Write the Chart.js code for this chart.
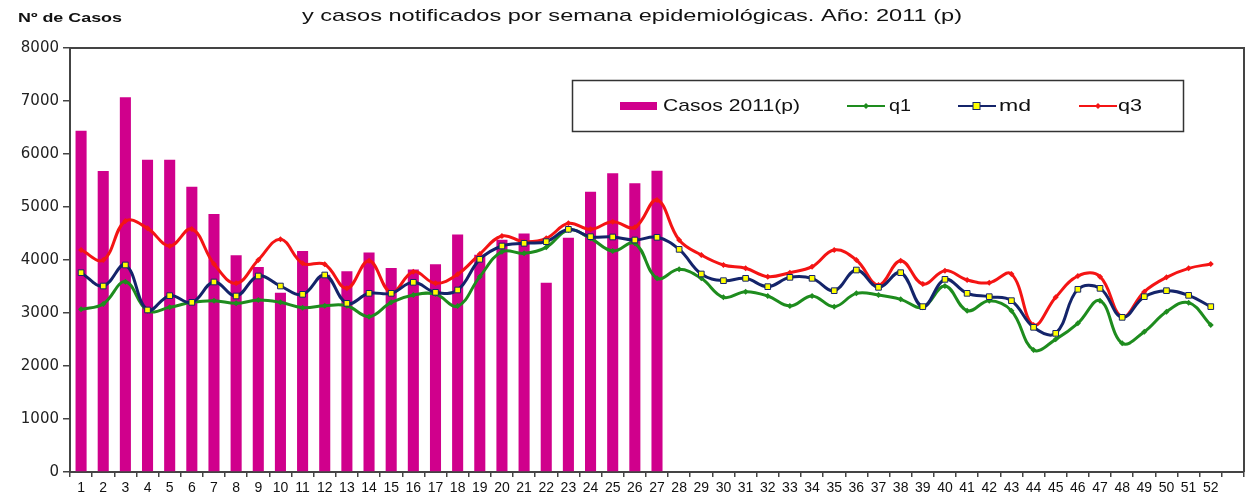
<!DOCTYPE html>
<html>
<head>
<meta charset="utf-8">
<script src="https://cdn.jsdelivr.net/npm/chart.js@4.4.1/dist/chart.umd.min.js"></script>
<style>
  html, body { margin: 0; padding: 0; background: #fff; }
  #wrap { width: 1249px; height: 497px; position: relative; }
</style>
</head>
<body>
<div id="wrap"><canvas id="c" width="1249" height="497"></canvas></div>
<script>
// ---- data ----
const weekLabels = ['1','2','3','4','5','6','7','8','9','10','11','12','13','14','15','16','17','18','19','20','21','22','23','24','25','26','27','28','29','30','31','32','33','34','35','36','37','38','39','40','41','42','43','44','45','46','47','48','49','50','51','52'];
const casos2011 = [6440, 5680, 7070, 5890, 5890, 5380, 4870, 4090, 3870, 3380, 4170, 3720, 3790, 4140, 3850, 3820, 3920, 4480, 4100, 4380, 4500, 3570, 4420, 5290, 5635, 5450, 5685];
const q1 = [3069, 3170, 3591, 3044, 3107, 3201, 3233, 3182, 3245, 3201, 3101, 3138, 3138, 2931, 3201, 3340, 3358, 3130, 3686, 4157, 4126, 4239, 4566, 4409, 4170, 4314, 3654, 3824, 3654, 3296, 3403, 3321, 3132, 3321, 3120, 3371, 3340, 3258, 3107, 3509, 3044, 3233, 3044, 2302, 2503, 2805, 3233, 2428, 2648, 3025, 3195, 2774];
const md = [3761, 3509, 3906, 3057, 3327, 3201, 3585, 3321, 3698, 3509, 3352, 3717, 3182, 3371, 3371, 3579, 3390, 3434, 4013, 4264, 4315, 4346, 4579, 4440, 4434, 4377, 4428, 4201, 3736, 3610, 3654, 3497, 3673, 3654, 3421, 3811, 3484, 3761, 3120, 3635, 3371, 3308, 3233, 2730, 2616, 3447, 3465, 2918, 3308, 3421, 3333, 3120];
const q3 = [4189, 4000, 4736, 4597, 4264, 4585, 3925, 3560, 4000, 4390, 3937, 3918, 3465, 3987, 3384, 3780, 3560, 3730, 4113, 4453, 4346, 4409, 4692, 4579, 4723, 4616, 5132, 4377, 4094, 3906, 3843, 3686, 3761, 3874, 4189, 4000, 3528, 3987, 3547, 3799, 3623, 3572, 3736, 2774, 3296, 3698, 3686, 2931, 3403, 3673, 3843, 3925];
const yTicks = [0, 1000, 2000, 3000, 4000, 5000, 6000, 7000, 8000];
const yAxisTitle = 'Nº de Casos';
const titleLine2 = 'y casos notificados por semana epidemiológicas. Año: 2011 (p)';
const seriesNames = ['Casos 2011(p)', 'q1', 'md', 'q3'];

// ---- styles ----
const C_BAR = '#D0008C', C_Q1 = '#1E8C1E', C_MD = '#14246A', C_Q3 = '#F41414';
const labels = weekLabels.concat(['']); // trailing empty slot as in the original axis

function sText(ctx, txt, x, y, font, targetW, align) {
  ctx.save();
  ctx.font = font;
  const w = ctx.measureText(txt).width;
  const sx = targetW ? targetW / w : 1;
  ctx.translate(x, y);
  ctx.scale(sx, 1);
  ctx.textAlign = align || 'left';
  ctx.textBaseline = 'middle';
  ctx.fillText(txt, 0, 0);
  ctx.restore();
}
function diamond(ctx, x, y, r, color) {
  ctx.beginPath();
  ctx.moveTo(x, y - r); ctx.lineTo(x + r, y); ctx.lineTo(x, y + r); ctx.lineTo(x - r, y); ctx.closePath();
  ctx.fillStyle = color; ctx.fill();
}

const decor = {
  id: 'decor',
  afterDraw(chart) {
    const ctx = chart.ctx, a = chart.chartArea;
    ctx.save();
    // frame top + right
    ctx.strokeStyle = '#444'; ctx.lineWidth = 2;
    ctx.beginPath(); ctx.moveTo(a.left, a.top); ctx.lineTo(a.right, a.top); ctx.lineTo(a.right, a.bottom); ctx.stroke();
    // titles
    ctx.fillStyle = '#111';
    sText(ctx, titleLine2, 632, 16, '17px "Liberation Sans"', 660, 'center');
    sText(ctx, yAxisTitle, 18, 18, 'bold 13px "Liberation Sans"', 104, 'left');
    // legend
    ctx.fillStyle = '#fff';
    ctx.fillRect(572, 80, 611, 51);
    ctx.strokeStyle = '#333'; ctx.lineWidth = 1.5;
    ctx.strokeRect(572.5, 80.5, 611, 51);
    const ly = 106;
    ctx.fillStyle = C_BAR; ctx.fillRect(620, ly - 4, 37, 8);
    ctx.fillStyle = '#111';
    sText(ctx, seriesNames[0], 663, ly, '17px "Liberation Sans"', 137, 'left');
    // q1
    ctx.strokeStyle = C_Q1; ctx.lineWidth = 2;
    ctx.beginPath(); ctx.moveTo(847, ly); ctx.lineTo(885, ly); ctx.stroke();
    diamond(ctx, 866, ly, 3, C_Q1);
    ctx.fillStyle = '#111';
    sText(ctx, seriesNames[1], 889, ly, '17px "Liberation Sans"', 22, 'left');
    // md
    ctx.strokeStyle = C_MD; ctx.lineWidth = 2;
    ctx.beginPath(); ctx.moveTo(958, ly); ctx.lineTo(996, ly); ctx.stroke();
    ctx.fillStyle = '#FFFF00'; ctx.fillRect(973, ly - 3.5, 7, 7);
    ctx.strokeStyle = C_MD; ctx.lineWidth = 1; ctx.strokeRect(973, ly - 3.5, 7, 7);
    ctx.fillStyle = '#111';
    sText(ctx, seriesNames[2], 999, ly, '17px "Liberation Sans"', 32, 'left');
    // q3
    ctx.strokeStyle = C_Q3; ctx.lineWidth = 2;
    ctx.beginPath(); ctx.moveTo(1079, ly); ctx.lineTo(1117, ly); ctx.stroke();
    diamond(ctx, 1098, ly, 3, C_Q3);
    ctx.fillStyle = '#111';
    sText(ctx, seriesNames[3], 1118, ly, '17px "Liberation Sans"', 24, 'left');
    ctx.restore();
  }
};

new Chart(document.getElementById('c'), {
  data: {
    labels: labels,
    datasets: [
      { type: 'line', label: seriesNames[2], data: md, order: 1, borderColor: C_MD, borderWidth: 3, tension: 0.4,
        pointStyle: 'rect', pointRadius: 4, pointBackgroundColor: '#FFFF00', pointBorderColor: C_MD, pointBorderWidth: 1 },
      { type: 'line', label: seriesNames[1], data: q1, order: 2, borderColor: C_Q1, borderWidth: 3, tension: 0.4,
        pointStyle: 'rectRot', pointRadius: 3, pointBackgroundColor: C_Q1, pointBorderColor: C_Q1, pointBorderWidth: 0 },
      { type: 'line', label: seriesNames[3], data: q3, order: 3, borderColor: C_Q3, borderWidth: 3, tension: 0.4,
        pointStyle: 'rectRot', pointRadius: 3, pointBackgroundColor: C_Q3, pointBorderColor: C_Q3, pointBorderWidth: 0 },
      { type: 'bar', label: seriesNames[0], data: casos2011, order: 10, backgroundColor: C_BAR,
        categoryPercentage: 1, barPercentage: 0.5 }
    ]
  },
  options: {
    responsive: false,
    animation: false,
    layout: { padding: { top: 48, right: 1, left: 0, bottom: 0 } },
    plugins: { legend: { display: false }, tooltip: { enabled: false }, title: { display: false } },
    scales: {
      x: {
        offset: true,
        grid: { offset: true, drawOnChartArea: false, drawTicks: true, tickLength: 5, color: '#444', lineWidth: 1.5 },
        border: { display: true, color: '#444', width: 2 },
        ticks: { autoSkip: false, maxRotation: 0, minRotation: 0, padding: 3, color: '#111',
                 font: { family: 'Liberation Sans', size: 14 } },
        afterFit(s) { s.height = 25; }
      },
      y: {
        min: 0, max: 8000,
        afterBuildTicks(s) { s.ticks = yTicks.map(v => ({ value: v })); },
        grid: { drawOnChartArea: false, drawTicks: true, tickLength: 7, color: '#444', lineWidth: 1.5 },
        border: { display: true, color: '#444', width: 2 },
        ticks: { padding: 4, color: '#222', font: { family: 'DejaVu Sans', size: 15 },
                 callback: (v) => String(v) },
        afterFit(s) { s.width = 70; }
      }
    }
  },
  plugins: [decor]
});
</script>
</body>
</html>
